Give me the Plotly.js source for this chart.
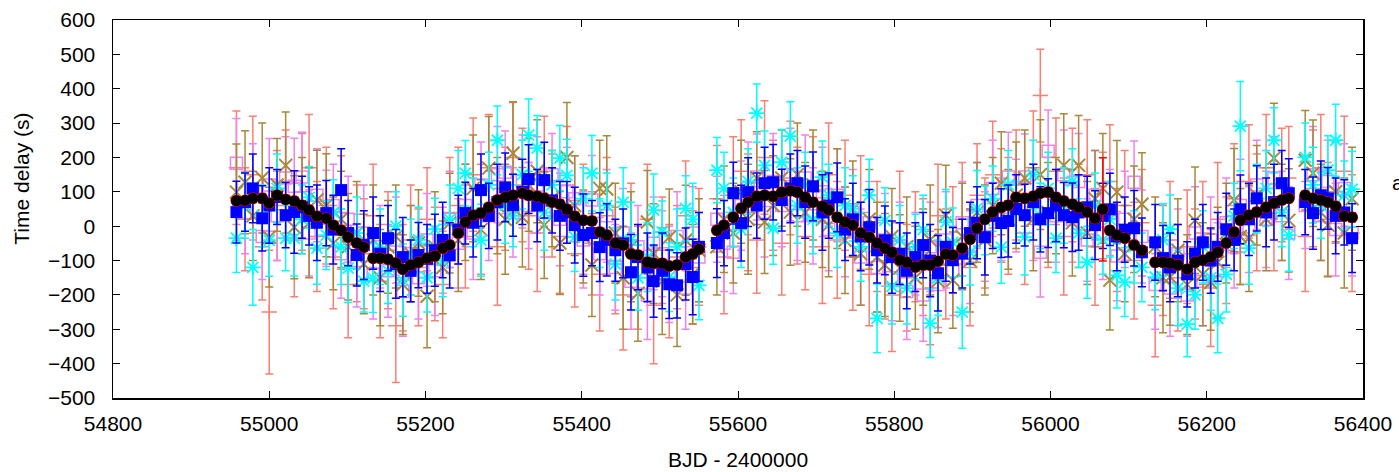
<!DOCTYPE html>
<html>
<head>
<meta charset="utf-8">
<script src="https://cdn.plot.ly/plotly-3.0.1.min.js"></script>
<style>html,body{margin:0;padding:0;background:#fff;}#chart{width:1399px;height:472px;}</style>
</head>
<body>
<div id="chart"></div>
<script>
// Observation times (BJD - 2400000)
const days = [54958,54969,54979,54991,55000,55010,55021,55032,55042,55051,
55061,55073,55082,55092,55101,55112,55121,55133,55142,55152,
55162,55171,55181,55191,55202,55212,55222,55231,55242,55251,
55261,55271,55281,55292,55302,55312,55324,55332,55343,55352,
55362,55372,55381,55391,55402,55413,55423,55432,55443,55453,
55463,55472,55484,55492,55503,55512,55522,55533,55542,55550,
55573,55582,55594,55604,55613,55624,55634,55645,55656,55667,
55676,55686,55696,55708,55716,55727,55737,55747,55757,55768,
55778,55788,55797,55807,55816,55827,55837,55846,55856,55866,
55875,55887,55897,55906,55916,55926,55937,55946,55956,55967,
55978,55987,55997,56007,56017,56028,56036,56047,56057,56067,
56076,56085,56095,56107,56117,
56134,56144,56153,56163,56175,56185,56195,56205,56214,56225,
56235,56243,56254,56264,56276,56286,56296,56305,
56326,56336,56346,56355,56365,56376,56386];

// Combined solution (black circles, red error bars)
const combined = [74,75,81,81,67,90,78,73,61,47,
29,23,3,-12,-32,-49,-61,-93,-93,-96,
-107,-125,-113,-105,-93,-87,-64,-55,-20,12,
32,38,55,76,84,90,96,90,87,81,
70,64,49,29,17,15,-17,-26,-49,-55,
-81,-84,-105,-108,-108,-116,-113,-90,-81,-67,
-12,3,26,52,70,87,90,87,99,103,
99,84,70,58,47,26,12,3,-20,-32,
-49,-64,-76,-99,-105,-119,-113,-113,-102,-81,
-84,-64,-38,-6,20,41,55,61,84,81,
87,96,99,84,73,64,55,41,23,49,
-12,-26,-35,-55,-70,
-105,-105,-108,-113,-125,-105,-99,-90,-76,-49,
-17,17,32,41,55,67,76,81,
90,81,76,70,58,29,26];
const combinedErr = [12,11,12,13,12,11,12,12,13,12,
12,11,12,13,12,12,11,12,13,12,
12,13,12,11,12,12,13,12,11,12,
12,13,12,12,11,12,13,12,12,11,
12,12,13,12,11,12,12,13,12,12,
11,12,13,12,12,11,12,12,13,12,
12,11,12,13,12,12,11,12,12,13,
12,12,11,12,13,12,12,11,12,12,
13,12,12,11,12,12,13,12,11,12,
12,13,12,12,11,12,12,13,12,11,
12,12,13,12,11,12,12,13,12,150,
12,11,12,13,12,
12,11,12,13,12,12,11,12,13,12,
12,11,12,13,12,12,11,12,
12,13,12,11,12,12,13];

// Blue filled squares
const seriesBlue = [41,70,110,23,60,85,32,41,55,30,
10,38,-10,105,-20,-84,-55,-20,-80,-35,
-110,-90,-130,-84,-95,-70,-40,-85,-10,38,
10,105,30,70,113,61,100,137,60,134,
75,30,40,3,-26,-20,-61,-40,-70,-50,
-134,-90,-120,-160,-130,-169,-172,-110,-148,-60,
-49,-20,96,9,99,60,125,128,76,110,
125,70,116,40,60,84,-10,20,-30,-3,
-70,-41,-90,-80,-130,-90,-55,-100,-137,-60,
-99,-80,-20,10,-32,30,9,15,50,32,
70,20,38,60,32,26,40,55,3,30,
49,-30,-10,-6,-76,
-47,-93,-120,-100,-140,-80,-47,-100,-60,-9,
-40,49,20,81,40,70,125,96,
70,38,90,81,30,40,-35];
const seriesBlueErr = [90,85,100,95,110,80,95,120,90,85,
110,95,100,120,95,90,100,105,110,95,
100,115,90,95,100,105,110,95,100,90,
100,105,95,110,100,90,95,100,105,110,
95,100,90,110,120,95,100,105,90,100,
110,95,100,105,110,100,95,105,110,100,
100,95,90,110,100,95,105,110,90,100,
95,105,100,110,95,100,90,105,100,110,
95,100,105,90,110,100,95,105,110,100,
95,100,90,105,110,95,100,105,100,90,
110,95,100,105,95,100,110,90,100,95,
105,100,95,110,100,
110,95,100,105,95,100,110,95,100,105,
90,100,105,95,100,110,95,100,
95,105,100,90,110,95,100];

// Cyan asterisks
const seriesCyan = [-35,60,-120,30,-41,110,-35,-35,20,84,
-64,-26,40,-60,-122,-20,-160,-151,-60,-130,
0,-157,-90,-40,-150,-9,-100,20,110,154,
40,-41,120,250,60,30,150,265,227,40,
120,198,148,-32,80,154,-20,60,-110,70,
-40,-150,-90,47,-17,-148,-60,52,20,-172,
163,110,40,-10,130,329,177,-6,186,262,
60,120,20,143,90,-20,60,52,-60,90,
-268,17,-175,-40,-180,-60,-10,-282,-150,12,
-47,-250,-76,52,17,80,-61,120,40,-32,
150,30,110,-35,60,130,-20,-105,60,-40,
20,-143,-163,-60,-120,
-148,-40,-9,-180,-285,-200,-60,-150,-268,-140,
30,291,-64,80,110,250,40,-26,
200,120,60,163,250,90,108];
const seriesCyanErr = [100,95,110,90,105,100,95,110,100,90,
105,100,95,110,100,105,90,100,110,95,
100,105,110,95,100,90,105,100,110,95,
100,105,95,100,110,90,100,105,95,110,
100,95,105,100,90,110,100,95,105,100,
110,95,100,105,90,100,110,95,105,100,
95,105,100,110,95,85,100,105,95,100,
110,95,100,105,90,100,110,95,100,105,
100,95,110,100,105,95,100,100,110,95,
100,105,95,110,100,95,105,100,90,110,
100,95,105,100,110,95,100,105,95,100,
110,95,100,105,100,
95,105,100,110,95,100,105,95,100,110,
95,130,105,100,110,95,100,105,
100,110,95,100,105,100,110];

// Brown crosses
const seriesBrown = [99,128,30,140,-32,120,177,-3,60,10,
76,61,-50,20,-60,-20,-110,-40,-150,-60,
-30,-170,-80,-49,-204,-60,-120,9,-40,40,
110,-10,169,60,20,212,26,120,160,3,
80,-49,200,60,-30,-113,110,108,-20,-150,
-60,-195,12,-80,-160,-32,-200,-41,-140,-70,
-60,20,-20,100,20,140,12,60,140,41,
150,40,120,20,3,80,-41,50,-80,20,
-90,-113,-30,-122,-60,-150,-90,-40,-160,32,
-157,-30,-100,40,-40,60,125,20,90,140,
20,150,40,60,177,10,177,-20,80,110,
-157,99,-80,20,64,
-60,-150,-148,-70,-170,17,-140,-163,-105,-20,
76,-30,-35,90,20,198,40,17,
192,154,40,3,100,-20,80];
const seriesBrownErr = [140,150,130,160,145,135,155,150,140,160,
145,150,135,140,155,150,145,160,140,135,
150,145,140,155,150,160,135,145,150,140,
155,145,150,140,160,150,145,135,150,155,
140,150,160,145,135,150,140,155,145,150,
160,140,150,145,155,140,150,160,145,150,
140,155,145,150,160,135,150,145,140,155,
150,145,160,140,150,145,155,140,150,145,
160,150,140,155,145,150,140,160,150,145,
140,155,150,145,160,140,150,145,155,140,
150,160,145,140,150,155,145,150,140,160,
145,150,140,155,150,
145,160,140,150,145,155,150,140,160,145,
150,140,155,145,150,160,140,150,
145,155,140,150,145,160,150];

// Pink open squares
const seriesPink = [183,40,100,-30,120,30,140,116,143,-20,
90,23,60,-80,20,-100,-20,-140,-60,-130,
-40,-190,-80,-150,-40,-130,-70,20,-50,60,
-20,120,30,150,157,40,130,60,120,40,
150,20,100,80,-40,76,-80,30,-120,-20,
-160,-60,-200,-50,-80,-140,-30,-180,-20,-90,
20,-50,-76,60,110,143,40,130,60,150,
30,140,30,100,-10,90,-17,40,-90,10,
-120,-40,-150,-60,-190,-80,-200,-60,-170,-40,
-130,10,-90,60,-30,110,20,143,60,143,
40,-76,218,30,150,20,130,-40,90,-20,
40,-87,20,128,-30,
-170,-60,-180,-80,-200,-20,-160,-40,-130,10,
-60,60,-10,120,20,140,30,-20,
60,150,30,130,-10,110,-20];
const seriesPinkErr = [130,120,140,125,135,130,120,140,130,125,
135,140,120,130,125,135,140,130,120,135,
125,130,140,120,135,130,125,140,130,120,
135,125,130,140,120,130,135,125,140,130,
120,135,130,125,140,130,120,135,125,130,
140,120,130,135,125,140,130,120,135,130,
125,140,120,130,135,125,130,140,120,135,
130,125,140,130,120,135,130,125,140,120,
130,135,125,130,140,120,135,130,125,140,
130,120,135,125,130,140,120,130,135,125,
140,130,120,135,130,125,140,120,130,135,
125,130,140,120,135,
130,125,140,130,120,135,130,125,140,130,
120,135,125,130,140,120,130,135,
125,140,130,120,135,130,125];

// Salmon plus markers
const seriesSalmon = [170,20,150,-60,-250,60,130,-40,100,170,
-30,60,-90,40,-170,-50,-80,30,-160,-70,
-290,-150,-40,-120,20,-110,-170,40,60,-30,
150,20,170,-60,80,200,120,30,-20,160,
60,-30,120,-80,20,-50,-140,30,-100,-200,
-40,-150,20,-230,-70,-160,-90,30,-120,-60,
80,-90,100,160,40,-40,200,90,-50,140,
60,-30,100,-60,150,-40,90,-90,40,-140,
-30,-100,-200,10,-150,-60,-90,-180,30,-110,
-40,20,-120,90,-20,150,60,30,120,-20,
170,380,40,160,-30,120,30,150,-60,60,
130,-40,60,-100,10,
-230,-100,-40,-150,-60,-110,-20,-180,20,-70,
80,-20,130,40,170,30,120,140,
-30,110,170,20,100,160,-20];
const seriesSalmonErr = [165,150,170,155,180,160,150,165,170,155,
160,170,150,165,155,170,160,150,165,170,
165,155,160,170,150,165,155,160,170,150,
165,160,155,170,150,160,165,155,170,160,
150,165,170,155,160,150,165,170,155,160,
165,150,160,170,155,165,150,160,165,170,
155,165,160,150,170,155,165,160,150,165,
170,155,160,165,150,170,160,155,165,150,
160,170,165,150,155,160,170,165,150,160,
155,165,170,150,160,155,165,170,160,150,
165,135,160,155,170,165,150,160,170,155,
165,150,160,170,155,
150,160,170,155,165,160,150,170,165,155,
160,150,165,170,155,160,165,150,
160,170,155,165,150,160,170];

const fontFamily = 'Liberation Sans, Arial, sans-serif';
const tickFont = {family: fontFamily, size: 21, color: '#000'};

function errTrace(y, err, color, marker, thick) {
  return {
    x: days, y: y, type: 'scatter', mode: 'markers',
    marker: marker,
    error_y: {type: 'data', array: err, visible: true, color: color, thickness: thick || 1.5, width: 4},
    hoverinfo: 'x+y', showlegend: false, cliponaxis: false
  };
}

const traces = [
  errTrace(seriesSalmon, seriesSalmonErr, '#fa8072',
    {symbol: 'cross-thin-open', size: 11, color: '#fa8072', line: {width: 1.5, color: '#fa8072'}}),
  errTrace(seriesPink, seriesPinkErr, '#ee82ee',
    {symbol: 'square-open', size: 12, color: '#ee82ee', line: {width: 1.5, color: '#ee82ee'}}),
  errTrace(seriesBrown, seriesBrownErr, '#a8883a',
    {symbol: 'x-thin-open', size: 13, color: '#a8883a', line: {width: 2, color: '#a8883a'}}),
  errTrace(seriesCyan, seriesCyanErr, '#00ffff',
    {symbol: 'asterisk-open', size: 13, color: '#00ffff', line: {width: 1.8, color: '#00ffff'}}),
  errTrace(seriesBlue, seriesBlueErr, '#0000ff',
    {symbol: 'square', size: 12, color: '#0000ff', line: {width: 0}}),
  errTrace(combined, combinedErr, '#ff0000',
    {symbol: 'circle', size: 12, color: '#ff0000', line: {width: 0}}),
  {
    x: days, y: combined, type: 'scatter', mode: 'markers',
    marker: {symbol: 'circle', size: 11, color: '#000000', line: {width: 0}},
    hoverinfo: 'x+y', showlegend: false
  }
];

const layout = {
  width: 1399, height: 472,
  margin: {l: 113, r: 36, t: 20, b: 74, pad: 0},
  paper_bgcolor: '#ffffff', plot_bgcolor: '#ffffff',
  showlegend: false,
  xaxis: {
    range: [54800, 56400], dtick: 200, tick0: 54800,
    ticks: 'inside', ticklen: 7, tickwidth: 1, tickcolor: '#000',
    showline: true, linecolor: '#000', linewidth: 1.5, mirror: 'ticks',
    showgrid: false, zeroline: false, tickfont: tickFont,
    ticklabelstandoff: 6, tickformat: 'd'
  },
  yaxis: {
    range: [-500, 600], dtick: 100, tick0: -500,
    ticks: 'inside', ticklen: 7, tickwidth: 1, tickcolor: '#000',
    showline: true, linecolor: '#000', linewidth: 1.5, mirror: 'ticks',
    showgrid: false, zeroline: false, tickfont: tickFont,
    ticklabelstandoff: 12
  },
  annotations: [
    {text: 'Time delay (s)', xref: 'paper', yref: 'paper', x: -0.0728, y: 0.58,
     xanchor: 'center', yanchor: 'middle', textangle: -90, showarrow: false,
     font: {family: fontFamily, size: 21, color: '#000'}},
    {text: 'BJD - 2400000', xref: 'paper', yref: 'paper', x: 0.5, y: -0.164,
     xanchor: 'center', yanchor: 'middle', showarrow: false,
     font: {family: fontFamily, size: 21, color: '#000'}},
    {text: 'a', xref: 'paper', yref: 'paper', x: 1.0216, y: 0.571,
     xanchor: 'left', yanchor: 'middle', showarrow: false,
     font: {family: fontFamily, size: 21, color: '#000'}}
  ]
};

Plotly.newPlot('chart', traces, layout, {staticPlot: true, displayModeBar: false});
</script>
</body>
</html>
